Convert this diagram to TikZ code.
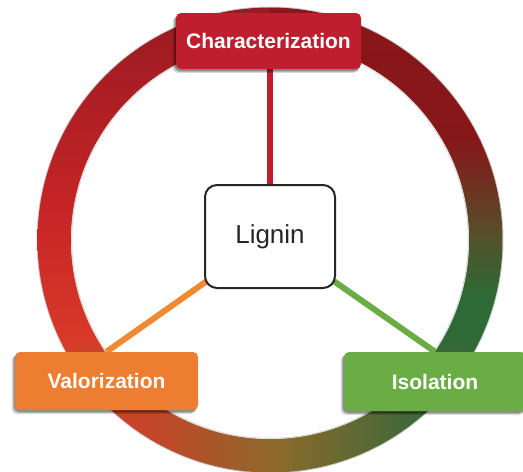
\documentclass[tikz,border=0pt]{standalone}
\usepackage{fontspec}
\setmainfont{Liberation Sans}
\usetikzlibrary{shadows,backgrounds}
\definecolor{cred}{HTML}{BE1E2D}
\definecolor{corange}{HTML}{ED7D31}
\definecolor{cgreen}{HTML}{6AAD45}
\definecolor{lineorange}{HTML}{F08A32}
\definecolor{L0}{HTML}{961A22}
\definecolor{L1}{HTML}{C42426}
\definecolor{L2}{HTML}{DA3A28}
\definecolor{R0}{HTML}{8A1619}
\definecolor{R1}{HTML}{861719}
\definecolor{R2}{HTML}{55502A}
\definecolor{R3}{HTML}{2D6A35}
\definecolor{B0}{HTML}{D83A28}
\definecolor{B1}{HTML}{C5452A}
\definecolor{B2}{HTML}{8A6A2B}
\definecolor{B3}{HTML}{40683A}
\definecolor{B4}{HTML}{2D6834}
\tikzset{
  topicbox/.style={rectangle, rounded corners=5pt, inner sep=0pt, text=white,
    font=\bfseries\fontsize{21}{25}\selectfont,
    drop shadow={shadow xshift=-2.5pt, shadow yshift=-3.5pt, opacity=0.15, fill=black, shadow scale=1.01},
    drop shadow={shadow xshift=-2pt, shadow yshift=-2.8pt, opacity=0.18, fill=black},
    drop shadow={shadow xshift=-1.2pt, shadow yshift=-1.8pt, opacity=0.2, fill=black}},
  centerbox/.style={rectangle, rounded corners=12pt, draw=black!85, line width=2pt,
    fill=white, minimum width=130pt, minimum height=103pt, inner sep=0pt,
    text=black!85, font=\fontsize{26}{30}\selectfont},
  link/.style={line width=6.5pt}
}
\begin{document}
\begin{tikzpicture}[x=1pt,y=-1pt]
\useasboundingbox (0,0) rectangle (523,472);
\coordinate (C) at (270,240);
\node[topicbox, fill=cred, minimum width=185pt, minimum height=56pt] (char) at (268.5,41) {Characterization};
\node[centerbox] (lig) at (270,236.5) {Lignin};
\node[topicbox, fill=corange, minimum width=183pt, minimum height=58pt] (val) at (106.5,381) {Valorization};
\node[topicbox, fill=cgreen, minimum width=182pt, minimum height=59pt] (iso) at (435,381.5) {Isolation};
\begin{pgfonlayer}{background}
  \fill[black!20] (C) circle (233.5);
  \begin{scope}
    \clip (C) circle (232.5);
    \shade[top color=L0, bottom color=L1] (20,0) rectangle (270.5,200.5);
    \shade[top color=L1, bottom color=L2] (20,200) rectangle (270.5,345.5);
    \shade[top color=R0, bottom color=R1] (270,0) rectangle (520,140.5);
    \shade[top color=R1, bottom color=R2] (270,140) rectangle (520,235.5);
    \shade[top color=R2, bottom color=R3] (270,235) rectangle (520,295.5);
    \fill[R3] (270,295) rectangle (520,345.5);
    \shade[left color=B0, right color=B1] (20,345) rectangle (150.5,480);
    \shade[left color=B1, right color=B2] (150,345) rectangle (280.5,480);
    \shade[left color=B2, right color=B3] (280,345) rectangle (410.5,480);
    \shade[left color=B3, right color=B4] (410,345) rectangle (520,480);
  \end{scope}
  \fill[white] (C) circle (199);
  \draw[black!15, line width=1pt] (C) circle (198.3);
  \draw[link, cred] (lig.center) -- (lig.center |- char.south);
  \draw[link, lineorange, line width=6pt] (lig.center) -- (val.north);
  \draw[link, cgreen, line width=6pt] (lig.center) -- (iso.north);
\end{pgfonlayer}
\end{tikzpicture}
\end{document}
